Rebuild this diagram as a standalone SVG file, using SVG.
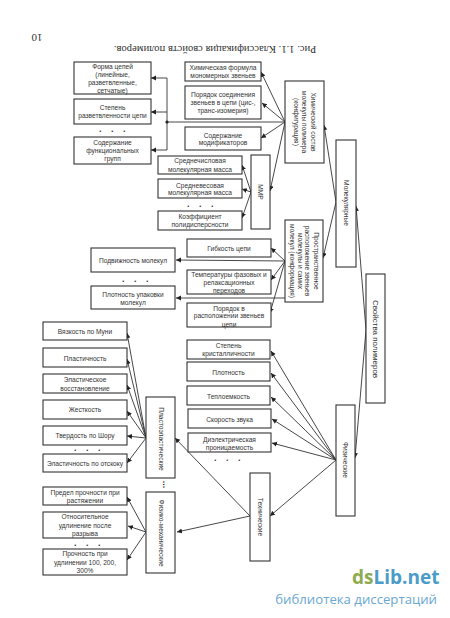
<svg xmlns="http://www.w3.org/2000/svg" width="450" height="618" viewBox="0 0 450 618">
<style>
rect{fill:#fff;stroke:#333;stroke-width:1.1}
text{font-family:"Liberation Sans",Arial,sans-serif;font-size:6.6px;fill:#333;text-anchor:middle}
.c line,.c polyline{fill:none;stroke:#333;stroke-width:.9}
.d{font-size:9px;font-weight:bold;letter-spacing:9.5px}
.v{font-size:9px;font-weight:bold;letter-spacing:0}
.t{font-family:"Liberation Serif","Times New Roman",serif;font-size:10.6px;fill:#333}
.n{font-family:"Liberation Serif","Times New Roman",serif;font-size:11px;fill:#333}
</style>
<defs><marker id="a" markerUnits="userSpaceOnUse" markerWidth="6" markerHeight="6" refX="5" refY="2.5" orient="auto"><path d="M0 0L5 2.5L0 5Z" fill="#222"/></marker></defs>
<rect width="450" height="618" style="fill:#fff;stroke:none"/>
<text class="n" transform="rotate(180 37 33.500)" x="37" y="33.500">10</text>
<text class="t" transform="rotate(180 215 46)" x="215" y="46">Рис. 1.1. Классификация свойств полимеров.</text>
<g class="c" id="connectors">
<line x1="285" y1="122" x2="261" y2="72" marker-end="url(#a)"/><line x1="285" y1="122" x2="262" y2="103" marker-end="url(#a)"/><line x1="285" y1="122" x2="261" y2="138" marker-end="url(#a)"/><line x1="285" y1="122" x2="270" y2="191" marker-end="url(#a)"/>
<line x1="285" y1="122" x2="167" y2="122"/><line x1="167" y1="78" x2="167" y2="150"/>
<polyline points="167,78 151,78" marker-end="url(#a)"/><polyline points="167,112 151,112" marker-end="url(#a)"/><polyline points="167,150 151,150" marker-end="url(#a)"/>
<line x1="251" y1="192" x2="242" y2="165" marker-end="url(#a)"/><line x1="251" y1="192" x2="242" y2="189" marker-end="url(#a)"/><line x1="251" y1="192" x2="242" y2="218" marker-end="url(#a)"/>
<line x1="336" y1="202" x2="324" y2="125" marker-end="url(#a)"/><line x1="336" y1="202" x2="323" y2="258" marker-end="url(#a)"/>
<line x1="366" y1="330" x2="356" y2="206" marker-end="url(#a)"/><line x1="366" y1="330" x2="355" y2="458" marker-end="url(#a)"/>
<line x1="285" y1="261" x2="271" y2="248" marker-end="url(#a)"/><line x1="285" y1="261" x2="271" y2="280" marker-end="url(#a)"/><line x1="285" y1="261" x2="270" y2="313" marker-end="url(#a)"/>
<line x1="285" y1="261" x2="176" y2="260" marker-end="url(#a)"/><line x1="285" y1="298" x2="176" y2="298" marker-end="url(#a)"/>
<line x1="336" y1="460" x2="271" y2="351" marker-end="url(#a)"/><line x1="336" y1="460" x2="271" y2="373" marker-end="url(#a)"/><line x1="336" y1="460" x2="271" y2="397" marker-end="url(#a)"/><line x1="336" y1="460" x2="272" y2="419" marker-end="url(#a)"/><line x1="336" y1="460" x2="272" y2="443" marker-end="url(#a)"/><line x1="336" y1="460" x2="270" y2="516" marker-end="url(#a)"/>
<line x1="250" y1="516" x2="175" y2="438" marker-end="url(#a)"/><line x1="250" y1="516" x2="177" y2="532" marker-end="url(#a)"/>
<line x1="146" y1="438" x2="127" y2="333" marker-end="url(#a)"/><line x1="146" y1="438" x2="127" y2="359" marker-end="url(#a)"/><line x1="146" y1="438" x2="127" y2="385" marker-end="url(#a)"/><line x1="146" y1="438" x2="127" y2="411" marker-end="url(#a)"/><line x1="146" y1="438" x2="127" y2="436" marker-end="url(#a)"/><line x1="146" y1="438" x2="127" y2="463" marker-end="url(#a)"/>
<line x1="146" y1="532" x2="127" y2="497" marker-end="url(#a)"/><line x1="146" y1="532" x2="128" y2="526" marker-end="url(#a)"/><line x1="146" y1="532" x2="127" y2="560" marker-end="url(#a)"/>
<circle cx="167" cy="122" r="1.6" fill="#222" stroke="none"/>
</g>
<g id="n-form"><rect x="74" y="62" width="77" height="32"/><text y="69"><tspan x="112.500">Форма цепей</tspan><tspan x="112.500" y="77">(линейные,</tspan><tspan x="112.500" y="85">разветвленные,</tspan><tspan x="112.500" y="93">сетчатые)</tspan></text></g>
<g id="n-step"><rect x="74" y="99" width="77" height="25"/><text y="110"><tspan x="112.500">Степень</tspan><tspan x="112.500" y="118">разветвленности цепи</tspan></text></g>
<g id="n-func"><rect x="74" y="137" width="77" height="27"/><text y="145"><tspan x="112.500">Содержание</tspan><tspan x="112.500" y="153">функциональных</tspan><tspan x="112.500" y="161">групп</tspan></text></g>
<g id="n-him"><rect x="185" y="62" width="76" height="19"/><text y="70"><tspan x="223">Химическая формула</tspan><tspan x="223" y="78">мономерных звеньев</tspan></text></g>
<g id="n-por"><rect x="185" y="86" width="76" height="33"/><text y="97"><tspan x="223">Порядок соединения</tspan><tspan x="223" y="105">звеньев в цепи (цис-,</tspan><tspan x="223" y="113">транс-изомерия)</tspan></text></g>
<g id="n-mod"><rect x="185" y="127" width="76" height="23"/><text y="137.500"><tspan x="223">Содержание</tspan><tspan x="223" y="145">модификаторов</tspan></text></g>
<g id="n-mn"><rect x="158" y="156" width="84" height="18"/><text y="163"><tspan x="200">Среднечисловая</tspan><tspan x="200" y="171.500">молекулярная масса</tspan></text></g>
<g id="n-mw"><rect x="158" y="179" width="84" height="19"/><text y="187.500"><tspan x="200">Средневесовая</tspan><tspan x="200" y="195">молекулярная масса</tspan></text></g>
<g id="n-pd"><rect x="158" y="211" width="84" height="19"/><text y="219"><tspan x="200">Коэффициент</tspan><tspan x="200" y="227">полидисперсности</tspan></text></g>
<g id="n-mmr"><rect x="251" y="155" width="19" height="74"/><text transform="rotate(90 258 192)" x="258" y="192">ММР</text></g>
<g id="n-sost"><rect x="285" y="81" width="39" height="82"/><text transform="rotate(90 310.500 122)" x="310.500" y="122">Химический состав</text><text transform="rotate(90 301.500 122)" x="301.500" y="122">молекулы полимера</text><text transform="rotate(90 293.500 122)" x="293.500" y="122">(конфигурация)</text></g>
<g id="n-prostr"><rect x="285" y="220" width="38" height="82"/><text transform="rotate(90 313.500 261)" x="313.500" y="261">Пространственное</text><text transform="rotate(90 305 261)" x="305" y="261">расположение звеньев</text><text transform="rotate(90 297.500 261)" x="297.500" y="261">молекулы и самих</text><text transform="rotate(90 289.500 261)" x="289.500" y="261">молекул (конформация)</text></g>
<g id="n-mol"><rect x="336" y="140" width="20" height="127"/><text transform="rotate(90 343.500 203)" x="343.500" y="203">Молекулярные</text></g>
<g id="n-svoj"><rect x="366" y="274" width="19" height="129"/><text transform="rotate(90 373 339)" x="373" y="339" style="font-size:8px">Свойства полимеров</text></g>
<g id="n-fiz"><rect x="336" y="405" width="19" height="111"/><text transform="rotate(90 343 460)" x="343" y="460">Физические</text></g>
<g id="n-teh"><rect x="250" y="473" width="20" height="88"/><text transform="rotate(90 257.500 517)" x="257.500" y="517">Технические</text></g>
<g id="n-plast"><rect x="146" y="397" width="29" height="81"/><text transform="rotate(90 158.500 439)" x="158.500" y="439">Пластоэластические</text></g>
<g id="n-fm"><rect x="146" y="492" width="29" height="81"/><text transform="rotate(90 158.500 533)" x="158.500" y="533">Физико-механические</text></g>
<g id="n-gib"><rect x="187" y="239" width="84" height="18"/><text x="229" y="251">Гибкость цепи</text></g>
<g id="n-temp"><rect x="187" y="270" width="84" height="24"/><text y="277"><tspan x="229">Температуры фазовых и</tspan><tspan x="229" y="285">релаксационных</tspan><tspan x="229" y="293">переходов</tspan></text></g>
<g id="n-por2"><rect x="187" y="303" width="84" height="24"/><text y="310.500"><tspan x="229">Порядок в</tspan><tspan x="229" y="318">расположении звеньев</tspan><tspan x="229" y="326.500">цепи</tspan></text></g>
<g id="n-podv"><rect x="91" y="248" width="84" height="24"/><text x="133" y="262.500">Подвижность молекул</text></g>
<g id="n-upak"><rect x="91" y="286" width="84" height="23"/><text y="297"><tspan x="133">Плотность упаковки</tspan><tspan x="133" y="305">молекул</tspan></text></g>
<g id="n-krist"><rect x="187" y="340" width="83" height="19"/><text y="348"><tspan x="228.500">Степень</tspan><tspan x="228.500" y="356">кристалличности</tspan></text></g>
<g id="n-plotn"><rect x="187" y="362" width="83" height="19"/><text x="228.500" y="374.500">Плотность</text></g>
<g id="n-tepl"><rect x="187" y="386" width="83" height="19"/><text x="228.500" y="398.500">Теплоемкость</text></g>
<g id="n-skor"><rect x="188" y="409" width="83" height="19"/><text x="229.500" y="421.500">Скорость звука</text></g>
<g id="n-diel"><rect x="188" y="433" width="83" height="19"/><text y="441.500"><tspan x="229.500">Диэлектрическая</tspan><tspan x="229.500" y="449.500">проницаемость</tspan></text></g>
<g id="n-muni"><rect x="43" y="322" width="84" height="18"/><text x="85" y="333.500">Вязкость по Муни</text></g>
<g id="n-plas"><rect x="43" y="348" width="84" height="19"/><text x="85" y="360.500">Пластичность</text></g>
<g id="n-vos"><rect x="43" y="374" width="84" height="19"/><text y="382"><tspan x="85">Эластическое</tspan><tspan x="85" y="390.500">восстановление</tspan></text></g>
<g id="n-zh"><rect x="43" y="400" width="84" height="19"/><text x="85" y="412">Жесткость</text></g>
<g id="n-shor"><rect x="43" y="426" width="84" height="19"/><text x="85" y="438">Твердость по Шору</text></g>
<g id="n-ots"><rect x="43" y="454" width="84" height="18"/><text x="85" y="465.500">Эластичность по отскоку</text></g>
<g id="n-pred"><rect x="43" y="487" width="84" height="18"/><text y="495"><tspan x="85">Предел прочности при</tspan><tspan x="85" y="503">растяжении</tspan></text></g>
<g id="n-otn"><rect x="43" y="512" width="84" height="26"/><text y="519"><tspan x="85">Относительное</tspan><tspan x="85" y="527.500">удлинение после</tspan><tspan x="85" y="536">разрыва</tspan></text></g>
<g id="n-pr"><rect x="43" y="549" width="84" height="26"/><text y="556"><tspan x="85">Прочность при</tspan><tspan x="85" y="565">удлинении 100, 200,</tspan><tspan x="85" y="572.500">300%</tspan></text></g>
<text class="d" x="117" y="132">...</text>
<text class="d" x="205" y="207">...</text>
<text class="d" x="140" y="282">...</text>
<text class="d" x="92" y="451">...</text>
<text class="d" x="92" y="546">...</text>
<text class="d" x="232" y="461">...</text>
<text class="v" transform="rotate(90 163 484.500)" x="163" y="484.500">...</text>
<g id="watermark"><text x="352" y="584" style="font-family:'Open Sans',sans-serif;font-size:19px;font-weight:bold;text-anchor:start;fill:#4b9cc9"><tspan style="fill:#8dab50">ds</tspan>Lib.net</text><text x="437" y="604" style="font-family:'Open Sans',sans-serif;font-size:13.200px;text-anchor:end;fill:#6aa8d2">библиотека диссертаций</text></g>
</svg>
